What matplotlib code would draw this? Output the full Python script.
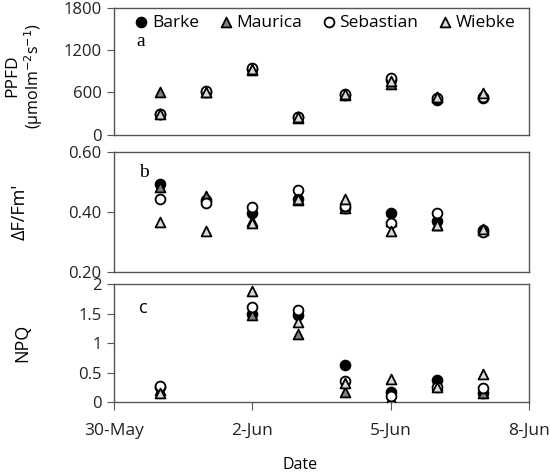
import datetime as dt
import matplotlib
matplotlib.use('Agg')
import matplotlib.pyplot as plt
import matplotlib.dates as mdates

plt.rcParams['font.family'] = ['Open Sans', 'DejaVu Sans']
plt.rcParams['font.size'] = 12

days8 = [dt.date(2014, 5, 31) + dt.timedelta(days=i) for i in range(8)]
days7 = [d for d in days8 if d.day != 1]

xtick_dates = [dt.date(2014, 5, 30), dt.date(2014, 6, 2), dt.date(2014, 6, 5), dt.date(2014, 6, 8)]
xtick_labels = ['30-May', '2-Jun', '5-Jun', '8-Jun']

varieties = ['Barke', 'Maurica', 'Sebastian', 'Wiebke']

# PPFD (µmol m-2 s-1), 31-May .. 7-Jun
ppfd_barke = [290, 610, 930, 250, 570, 780, 500, 520]
ppfd_maurica = [600, 600, 920, 240, 570, 720, 540, 580]
ppfd_sebastian = [300, 620, 940, 260, 580, 810, 520, 540]
ppfd_wiebke = [300, 610, 930, 250, 575, 760, 540, 590]

# dF/Fm'
phi_barke = [0.492, 0.44, 0.398, 0.445, 0.415, 0.398, 0.37, 0.34]
phi_maurica = [0.483, 0.453, 0.37, 0.44, 0.415, 0.37, 0.357, 0.34]
phi_sebastian = [0.442, 0.431, 0.418, 0.474, 0.42, 0.364, 0.396, 0.332]
phi_wiebke = [0.368, 0.337, 0.365, 0.445, 0.443, 0.338, 0.357, 0.342]

# NPQ, nothing on 1-Jun
npq_barke = [0.25, 1.5, 1.47, 0.62, 0.17, 0.37, 0.15]
npq_maurica = [0.2, 1.48, 1.16, 0.17, 0.05, 0.28, 0.15]
npq_sebastian = [0.27, 1.61, 1.56, 0.35, 0.1, 0.25, 0.24]
npq_wiebke = [0.15, 1.88, 1.35, 0.32, 0.39, 0.26, 0.47]

styles = {
    'Barke': dict(marker='o', facecolor='black'),
    'Maurica': dict(marker='^', facecolor='#7f7f7f'),
    'Sebastian': dict(marker='o', facecolor='white'),
    'Wiebke': dict(marker='^', facecolor='#d9d9d9'),
}

fig = plt.figure(figsize=(5.5, 4.72), dpi=100)
L, W = 0.2073, 0.7545
ax_a = fig.add_axes([L, 0.7140, W, 0.2701])
ax_b = fig.add_axes([L, 0.4237, W, 0.2542])
ax_c = fig.add_axes([L, 0.1483, W, 0.2500])


def draw(ax, x, series):
    for name, vals in zip(varieties, series):
        st = styles[name]
        ax.scatter(x, vals, s=50, marker=st['marker'], facecolor=st['facecolor'],
                   edgecolor='black', linewidth=1.3, zorder=3, label=name)


draw(ax_a, days8, [ppfd_barke, ppfd_maurica, ppfd_sebastian, ppfd_wiebke])
draw(ax_b, days8, [phi_barke, phi_maurica, phi_sebastian, phi_wiebke])
draw(ax_c, days7, [npq_barke, npq_maurica, npq_sebastian, npq_wiebke])

for ax in (ax_a, ax_b, ax_c):
    ax.set_xlim(xtick_dates[0], xtick_dates[-1])
    for s in ax.spines.values():
        s.set_color('#555555')
        s.set_linewidth(1.0)
    ax.tick_params(axis='y', direction='out', length=5, color='#555555', pad=4,
                   labelsize=12, labelcolor='#222222')

for ax in (ax_a, ax_b):
    ax.set_xticks([])

ax_a.set_ylim(0, 1800)
ax_a.set_yticks([0, 600, 1200, 1800])
ax_b.set_ylim(0.2, 0.6)
ax_b.set_yticks([0.2, 0.4, 0.6])
ax_b.set_yticklabels(['0.20', '0.40', '0.60'])
ax_c.set_ylim(0, 2)
ax_c.set_yticks([0, 0.5, 1, 1.5, 2])
ax_c.set_yticklabels(['0', '0.5', '1', '1.5', '2'])
ax_c.set_xticks([mdates.date2num(d) for d in xtick_dates])
ax_c.set_xticklabels(xtick_labels, fontsize=12.5)
ax_c.tick_params(axis='x', direction='out', length=6, color='#555555', pad=9,
                 labelcolor='#222222')

ax_a.text(0.055, 0.73, 'a', transform=ax_a.transAxes, family='Liberation Serif',
          fontsize=14, va='center')
ax_b.text(0.06, 0.83, 'b', transform=ax_b.transAxes, family='Liberation Serif',
          fontsize=14, va='center')
ax_c.text(0.06, 0.80, 'c', transform=ax_c.transAxes, fontsize=13, va='center')

ax_a.legend(loc='center', bbox_to_anchor=(0.51, 0.88), ncol=4, frameon=False,
            handlelength=0.6, handletextpad=0.3, columnspacing=1.25,
            fontsize=12.5, borderaxespad=0, borderpad=0)

fig.text(0.022, 0.839, 'PPFD', rotation=90, ha='center', va='center', fontsize=12.5)
fig.text(0.062, 0.839, '(µmolm$^{-2}$s$^{-1}$)', rotation=90, ha='center', va='center',
         fontsize=11.5)
fig.text(0.036, 0.552, "ΔF/Fm'", rotation=90, ha='center', va='center', fontsize=13)
fig.text(0.04, 0.273, 'NPQ', rotation=90, ha='center', va='center', fontsize=13)
fig.text(0.545, 0.015, 'Date', ha='center', va='center', fontsize=11.5)

fig.savefig('out.png', dpi=100)
